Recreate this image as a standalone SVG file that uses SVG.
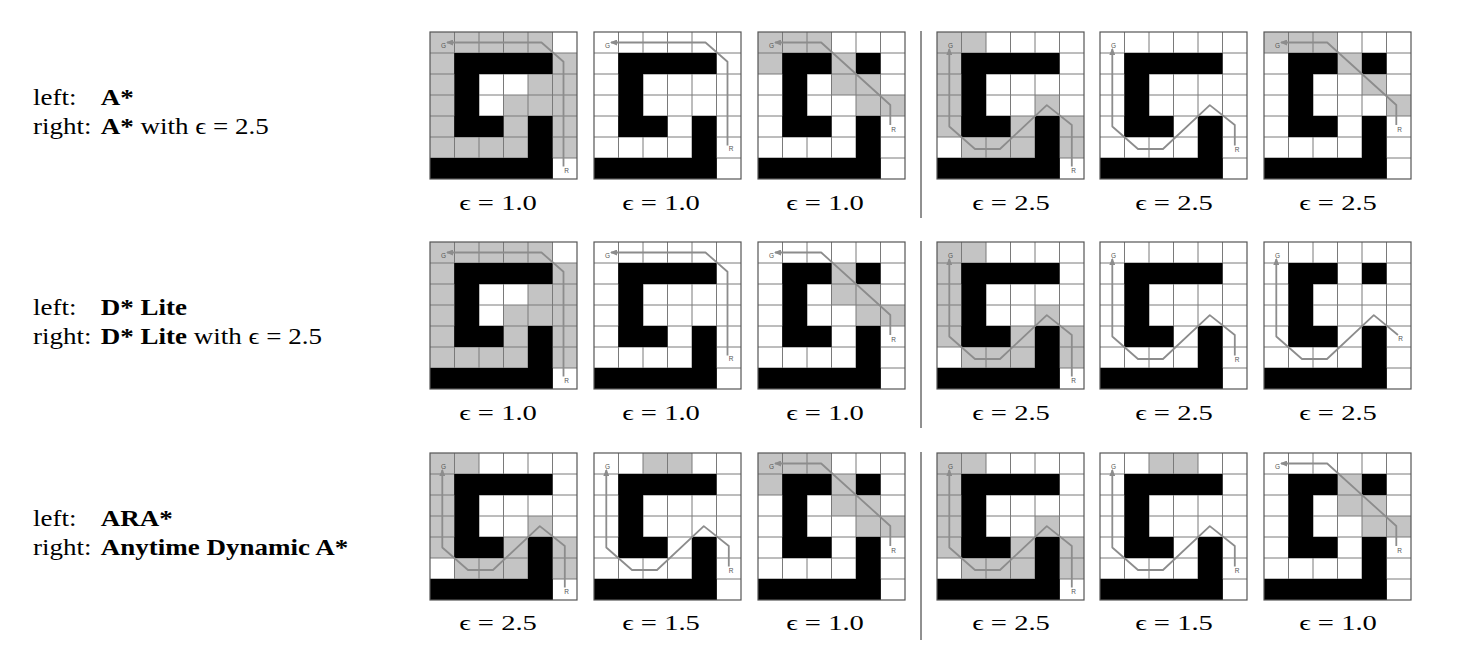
<svg xmlns="http://www.w3.org/2000/svg" xmlns:xlink="http://www.w3.org/1999/xlink" width="1459" height="652" viewBox="0 0 1459 652">
<style>
.gl{stroke:#7a7a7a;stroke-width:1;fill:none}
.obs{fill:#000}
.vis{fill:#c4c4c4}
.route{fill:none;stroke:#8c8c8c;stroke-width:1.8;stroke-linejoin:round;marker-end:url(#ah)}
.lbl{font-family:"Liberation Sans",Arial,sans-serif;font-size:6.5px;fill:#555;text-anchor:middle}
.frame{fill:none;stroke:#555;stroke-width:1.2}
.bg{fill:#fff}
.t{font-family:"Liberation Serif","DejaVu Serif",serif;font-size:22.5px;fill:#000}
.b{font-weight:bold}
.cap{font-family:"Liberation Serif","DejaVu Serif",serif;font-size:22px;fill:#000;text-anchor:middle}
.div{stroke:#222;stroke-width:1}
</style>
<defs>
<marker id="ah" markerWidth="7" markerHeight="6" refX="6" refY="3" orient="auto" markerUnits="userSpaceOnUse"><path d="M0,0 L7,3 L0,6 z" fill="#8c8c8c"/></marker>
<path id="lines" class="gl" d="M24.5,0V147M49,0V147M73.5,0V147M98,0V147M122.5,0V147M0,21H147M0,42H147M0,63H147M0,84H147M0,105H147M0,126H147"/>
<g id="mS" class="obs"><rect x="24.5" y="21" width="98" height="21"/><rect x="24.5" y="21" width="24.5" height="84"/><rect x="24.5" y="84" width="49" height="21"/><rect x="98" y="84" width="24.5" height="63"/><rect x="0" y="126" width="122.5" height="21"/></g>
<g id="mD" class="obs"><rect x="24.5" y="21" width="49" height="21"/><rect x="98" y="21" width="24.5" height="21"/><rect x="24.5" y="21" width="24.5" height="84"/><rect x="24.5" y="84" width="49" height="21"/><rect x="98" y="84" width="24.5" height="63"/><rect x="0" y="126" width="122.5" height="21"/></g>
<g id="sh1" class="vis"><rect x="0" y="0" width="122.5" height="21"/><rect x="0" y="21" width="24.5" height="105"/><rect x="122.5" y="21" width="24.5" height="105"/><rect x="98" y="42" width="24.5" height="21"/><rect x="73.5" y="63" width="49" height="21"/><rect x="73.5" y="84" width="24.5" height="21"/><rect x="24.5" y="105" width="73.5" height="21"/></g>
<g id="sh4" class="vis"><rect x="0" y="0" width="49" height="21"/><rect x="0" y="21" width="24.5" height="84"/><rect x="98" y="63" width="24.5" height="21"/><rect x="73.5" y="84" width="24.5" height="21"/><rect x="24.5" y="105" width="73.5" height="21"/><rect x="122.5" y="84" width="24.5" height="42"/></g>
<g id="sh3a" class="vis"><rect x="0" y="0" width="73.5" height="21"/><rect x="0" y="21" width="24.5" height="21"/><rect x="73.5" y="21" width="24.5" height="21"/><rect x="73.5" y="42" width="49" height="21"/><rect x="98" y="63" width="49" height="21"/></g>
<g id="sh3b" class="vis"><rect x="73.5" y="21" width="24.5" height="21"/><rect x="73.5" y="42" width="49" height="21"/><rect x="98" y="63" width="49" height="21"/></g>
<g id="sh6" class="vis"><rect x="0" y="0" width="73.5" height="21"/><rect x="73.5" y="21" width="24.5" height="21"/><rect x="98" y="42" width="24.5" height="21"/><rect x="122.5" y="63" width="24.5" height="21"/></g>
<g id="sh2" class="vis"><rect x="49" y="0" width="49" height="21"/></g>
<g id="p1"><path class="route" d="M133.5,134.4V29.8L111.5,10.5H17"/><text class="lbl" x="13.5" y="15.5">G</text><text class="lbl" x="136.5" y="140.5">R</text></g>
<g id="p2"><path class="route" d="M133.5,113.4V29.8L111.5,10.5H17"/><text class="lbl" x="13.5" y="15.5">G</text><text class="lbl" x="137" y="118.5">R</text></g>
<g id="p3"><path class="route" d="M132.3,93V73L63.2,10.5H17"/><text class="lbl" x="13.5" y="15.5">G</text><text class="lbl" x="135.7" y="99.5">R</text></g>
<g id="p4"><path class="route" d="M134.8,134.4V93L109.8,73.1L63,117H38L12.3,94.5V17"/><text class="lbl" x="13.5" y="15.5">G</text><text class="lbl" x="136.5" y="140.5">R</text></g>
<g id="p5"><path class="route" d="M134.8,113.4V93L109.8,73.1L63,117H38L12.3,94.5V17"/><text class="lbl" x="13.5" y="15.5">G</text><text class="lbl" x="137" y="119.5">R</text></g>
<g id="p6"><path class="route" d="M134,93L109.8,73.1L63,117H38L12.3,94.5V17"/><text class="lbl" x="13.5" y="15.5">G</text><text class="lbl" x="136.5" y="99">R</text></g>
</defs>
<rect width="1459" height="652" fill="#fff"/>

<g id="labels">
<text class="t" transform="translate(33,105) scale(1.2,1)">left:<tspan class="b" x="56.5">A*</tspan></text>
<text class="t" transform="translate(33,134) scale(1.2,1)">right:<tspan class="b" x="56.5">A*</tspan> with ϵ = 2.5</text>
<text class="t" transform="translate(33,315) scale(1.2,1)">left:<tspan class="b" x="56.5">D* Lite</tspan></text>
<text class="t" transform="translate(33,344) scale(1.2,1)">right:<tspan class="b" x="56.5">D* Lite</tspan> with ϵ = 2.5</text>
<text class="t" transform="translate(33,526) scale(1.2,1)">left:<tspan class="b" x="56.5">ARA*</tspan></text>
<text class="t" transform="translate(33,555) scale(1.2,1)">right:<tspan class="b" x="56.5">Anytime Dynamic A*</tspan></text>
</g>

<g id="row1">
<g id="r1g1" transform="translate(430,32)"><rect class="bg" width="147" height="147"/><use href="#sh1"/><use href="#lines"/><use href="#mS"/><use href="#p1"/><rect class="frame" width="147" height="147"/></g>
<g id="r1g2" transform="translate(594,32)"><rect class="bg" width="147" height="147"/><use href="#lines"/><use href="#mS"/><use href="#p2"/><rect class="frame" width="147" height="147"/></g>
<g id="r1g3" transform="translate(758,32)"><rect class="bg" width="147" height="147"/><use href="#sh3a"/><use href="#lines"/><use href="#mD"/><use href="#p3"/><rect class="frame" width="147" height="147"/></g>
<g id="r1g4" transform="translate(937,32)"><rect class="bg" width="147" height="147"/><use href="#sh4"/><use href="#lines"/><use href="#mS"/><use href="#p4"/><rect class="frame" width="147" height="147"/></g>
<g id="r1g5" transform="translate(1100,32)"><rect class="bg" width="147" height="147"/><use href="#lines"/><use href="#mS"/><use href="#p5"/><rect class="frame" width="147" height="147"/></g>
<g id="r1g6" transform="translate(1264,32)"><rect class="bg" width="147" height="147"/><use href="#sh6"/><use href="#lines"/><use href="#mD"/><use href="#p3"/><rect class="frame" width="147" height="147"/></g>
</g>

<g id="row2">
<g id="r2g1" transform="translate(430,242)"><rect class="bg" width="147" height="147"/><use href="#sh1"/><use href="#lines"/><use href="#mS"/><use href="#p1"/><rect class="frame" width="147" height="147"/></g>
<g id="r2g2" transform="translate(594,242)"><rect class="bg" width="147" height="147"/><use href="#lines"/><use href="#mS"/><use href="#p2"/><rect class="frame" width="147" height="147"/></g>
<g id="r2g3" transform="translate(758,242)"><rect class="bg" width="147" height="147"/><use href="#sh3b"/><use href="#lines"/><use href="#mD"/><use href="#p3"/><rect class="frame" width="147" height="147"/></g>
<g id="r2g4" transform="translate(937,242)"><rect class="bg" width="147" height="147"/><use href="#sh4"/><use href="#lines"/><use href="#mS"/><use href="#p4"/><rect class="frame" width="147" height="147"/></g>
<g id="r2g5" transform="translate(1100,242)"><rect class="bg" width="147" height="147"/><use href="#lines"/><use href="#mS"/><use href="#p5"/><rect class="frame" width="147" height="147"/></g>
<g id="r2g6" transform="translate(1264,242)"><rect class="bg" width="147" height="147"/><use href="#lines"/><use href="#mD"/><use href="#p6"/><rect class="frame" width="147" height="147"/></g>
</g>

<g id="row3">
<g id="r3g1" transform="translate(430,453)"><rect class="bg" width="147" height="147"/><use href="#sh4"/><use href="#lines"/><use href="#mS"/><use href="#p4"/><rect class="frame" width="147" height="147"/></g>
<g id="r3g2" transform="translate(594,453)"><rect class="bg" width="147" height="147"/><use href="#sh2"/><use href="#lines"/><use href="#mS"/><use href="#p5"/><rect class="frame" width="147" height="147"/></g>
<g id="r3g3" transform="translate(758,453)"><rect class="bg" width="147" height="147"/><use href="#sh3a"/><use href="#lines"/><use href="#mD"/><use href="#p3"/><rect class="frame" width="147" height="147"/></g>
<g id="r3g4" transform="translate(937,453)"><rect class="bg" width="147" height="147"/><use href="#sh4"/><use href="#lines"/><use href="#mS"/><use href="#p4"/><rect class="frame" width="147" height="147"/></g>
<g id="r3g5" transform="translate(1100,453)"><rect class="bg" width="147" height="147"/><use href="#sh2"/><use href="#lines"/><use href="#mS"/><use href="#p5"/><rect class="frame" width="147" height="147"/></g>
<g id="r3g6" transform="translate(1264,453)"><rect class="bg" width="147" height="147"/><use href="#sh3b"/><use href="#lines"/><use href="#mD"/><use href="#p3"/><rect class="frame" width="147" height="147"/></g>
</g>

<g id="dividers">
<line class="div" x1="921" y1="31" x2="921" y2="218"/>
<line class="div" x1="921" y1="241" x2="921" y2="428"/>
<line class="div" x1="921" y1="452" x2="921" y2="640"/>
</g>

<g id="captions">
<text class="cap" transform="translate(498,210) scale(1.3,1)">ϵ = 1.0</text>
<text class="cap" transform="translate(661,210) scale(1.3,1)">ϵ = 1.0</text>
<text class="cap" transform="translate(825,210) scale(1.3,1)">ϵ = 1.0</text>
<text class="cap" transform="translate(1011,210) scale(1.3,1)">ϵ = 2.5</text>
<text class="cap" transform="translate(1174,210) scale(1.3,1)">ϵ = 2.5</text>
<text class="cap" transform="translate(1338,210) scale(1.3,1)">ϵ = 2.5</text>
<text class="cap" transform="translate(498,420) scale(1.3,1)">ϵ = 1.0</text>
<text class="cap" transform="translate(661,420) scale(1.3,1)">ϵ = 1.0</text>
<text class="cap" transform="translate(825,420) scale(1.3,1)">ϵ = 1.0</text>
<text class="cap" transform="translate(1011,420) scale(1.3,1)">ϵ = 2.5</text>
<text class="cap" transform="translate(1174,420) scale(1.3,1)">ϵ = 2.5</text>
<text class="cap" transform="translate(1338,420) scale(1.3,1)">ϵ = 2.5</text>
<text class="cap" transform="translate(498,630) scale(1.3,1)">ϵ = 2.5</text>
<text class="cap" transform="translate(661,630) scale(1.3,1)">ϵ = 1.5</text>
<text class="cap" transform="translate(825,630) scale(1.3,1)">ϵ = 1.0</text>
<text class="cap" transform="translate(1011,630) scale(1.3,1)">ϵ = 2.5</text>
<text class="cap" transform="translate(1174,630) scale(1.3,1)">ϵ = 1.5</text>
<text class="cap" transform="translate(1338,630) scale(1.3,1)">ϵ = 1.0</text>
</g>
</svg>
